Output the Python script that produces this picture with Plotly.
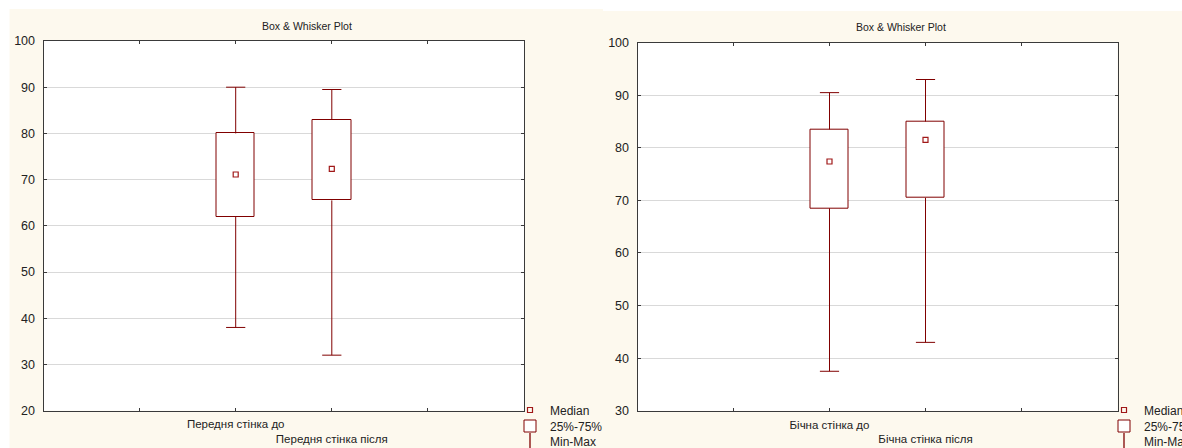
import plotly.graph_objects as go

# ---- data ----
front_categories = ["Передня стінка до", "Передня стінка після"]
front_min = [38.0, 32.0]
front_q1 = [62.0, 65.5]
front_median = [71.1, 72.3]
front_q3 = [80.0, 83.0]
front_max = [90.0, 89.5]

side_categories = ["Бічна стінка до", "Бічна стінка після"]
side_min = [37.5, 43.0]
side_q1 = [68.5, 70.5]
side_median = [77.4, 81.5]
side_q3 = [83.5, 85.0]
side_max = [90.5, 93.0]

title_text = "Box & Whisker Plot"
legend_labels = ["Median", "25%-75%", "Min-Max"]

# ---- style ----
W, H = 1182, 448
CREAM = "#FDF9EE"
DARKRED = "#800000"
MEDRED = "#A01818"
FRAME = "#3a3a3a"
GRID = "#d9d9d9"
FONT = "Liberation Sans, Arial, sans-serif"
OFFSET = 2          # empty category slots on the left
SLOTS = 5           # axis span in category units
BOX_W = 0.4
CAP_HALF = 0.1


def px_x(p):
    return p / W


def px_y(p):
    return 1 - p / H


fig = go.Figure()


def add_panel(cats, vmin, q1, med, q3, vmax, xa, ya, legends):
    xs = [i + OFFSET for i in range(len(cats))]
    xref = "x" if xa == "xaxis" else "x2"
    yref = "y" if ya == "yaxis" else "y2"
    # box (25%-75%)
    fig.add_trace(go.Bar(
        x=xs, y=[b - a for a, b in zip(q1, q3)], base=q1, width=BOX_W,
        marker=dict(color="white", line=dict(color=DARKRED, width=1)),
        name=legend_labels[1], legend=legends[1], legendrank=2,
        xaxis=xref, yaxis=yref, hoverinfo="skip"))
    # whiskers
    wx, wy = [], []
    for x, lo, a, b, hi in zip(xs, vmin, q1, q3, vmax):
        wx += [x, x, None, x - CAP_HALF, x + CAP_HALF, None,
               x, x, None, x - CAP_HALF, x + CAP_HALF, None]
        wy += [b, hi, None, hi, hi, None, a, lo, None, lo, lo, None]
    fig.add_trace(go.Scatter(
        x=wx, y=wy, mode="lines", line=dict(color=DARKRED, width=1),
        showlegend=False, xaxis=xref, yaxis=yref, hoverinfo="skip"))
    # legend glyph for Min-Max
    fig.add_trace(go.Scatter(
        x=[None], y=[None], mode="markers",
        marker=dict(symbol="line-ns-open", size=12, color=DARKRED,
                    line=dict(color=DARKRED, width=1.3)),
        name=legend_labels[2], legend=legends[2], legendrank=3,
        xaxis=xref, yaxis=yref))
    # medians
    fig.add_trace(go.Scatter(
        x=xs, y=med, mode="markers",
        marker=dict(symbol="square-open", size=5, color=MEDRED,
                    line=dict(color=MEDRED, width=1.2)),
        name=legend_labels[0], legend=legends[0], legendrank=1,
        xaxis=xref, yaxis=yref))
    ticktext = []
    for k in range(SLOTS + 1):
        i = k - OFFSET
        if 0 <= i < len(cats):
            ticktext.append(("<br>" * (i % 2)) + cats[i])
        else:
            ticktext.append("")
    return ticktext


tt1 = add_panel(front_categories, front_min, front_q1, front_median, front_q3,
                front_max, "xaxis", "yaxis", ["legend", "legend2", "legend3"])
tt2 = add_panel(side_categories, side_min, side_q1, side_median, side_q3,
                side_max, "xaxis2", "yaxis2", ["legend4", "legend5", "legend6"])

xcommon = dict(range=[0, SLOTS], tickmode="array", tickvals=list(range(SLOTS + 1)),
               showgrid=False, zeroline=False, showline=True, mirror="ticks",
               linecolor=FRAME, linewidth=1, ticks="inside", ticklen=3,
               tickcolor=FRAME, tickangle=0, automargin=False,
               ticklabelstandoff=3,
               tickfont=dict(size=11.5, color="#222", family=FONT),
               fixedrange=True)
ycommon = dict(dtick=10, showgrid=True, gridcolor=GRID, gridwidth=1,
               zeroline=False, showline=True, mirror="ticks", linecolor=FRAME,
               linewidth=1, ticks="inside", ticklen=3, tickcolor=FRAME,
               automargin=False,
               tickfont=dict(size=12.5, color="#222", family=FONT),
               ticklabelstandoff=5, fixedrange=True)

fig.update_layout(
    width=W, height=H, margin=dict(l=0, r=0, t=0, b=0, autoexpand=False),
    paper_bgcolor=CREAM, plot_bgcolor="white",
    font=dict(family=FONT, size=12, color="#222"),
    xaxis=dict(xcommon, domain=[px_x(43.5), px_x(524)], ticktext=tt1),
    yaxis=dict(ycommon, domain=[px_y(410.6), px_y(41)], range=[20, 100]),
    xaxis2=dict(xcommon, domain=[px_x(637.5), px_x(1117.5)], ticktext=tt2,
                anchor="y2"),
    yaxis2=dict(ycommon, domain=[px_y(410.7), px_y(42.7)], range=[30, 100],
                anchor="x2"),
    bargap=0,
    shapes=[
        dict(type="rect", xref="paper", yref="paper", x0=0, x1=px_x(9.5),
             y0=0, y1=1, fillcolor="white", line=dict(width=0), layer="below"),
        dict(type="rect", xref="paper", yref="paper", x0=0, x1=px_x(603),
             y0=px_y(9), y1=1, fillcolor="white", line=dict(width=0), layer="below"),
        dict(type="rect", xref="paper", yref="paper", x0=px_x(603), x1=1,
             y0=px_y(11), y1=1, fillcolor="white", line=dict(width=0), layer="below"),
    ],
    annotations=[
        dict(text=title_text, xref="paper", yref="paper", x=px_x(307), y=px_y(25.5),
             xanchor="center", yanchor="middle", showarrow=False,
             font=dict(size=10.5, family=FONT, color="#222")),
        dict(text=title_text, xref="paper", yref="paper", x=px_x(901), y=px_y(26.7),
             xanchor="center", yanchor="middle", showarrow=False,
             font=dict(size=10.5, family=FONT, color="#222")),
    ],
)

legend_rows = [410, 426, 441.5]
legend_lefts = [510, 1104]
names = ["legend", "legend2", "legend3", "legend4", "legend5", "legend6"]
for k, nm in enumerate(names):
    fig.update_layout({nm: dict(
        x=px_x(legend_lefts[k // 3]), y=px_y(legend_rows[k % 3]),
        xanchor="left", yanchor="middle", bgcolor="rgba(0,0,0,0)",
        borderwidth=0, font=dict(size=12, family=FONT, color="#222"))})

fig.write_html("out.html")
